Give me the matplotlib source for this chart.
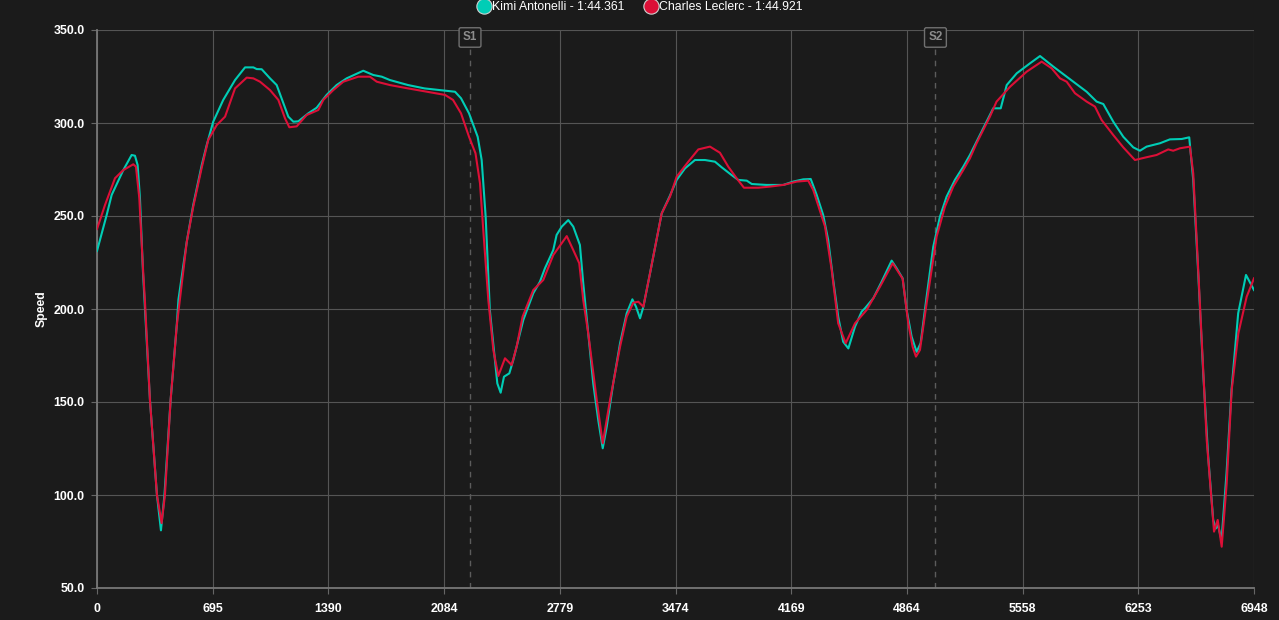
import matplotlib
matplotlib.use("Agg")
import matplotlib.pyplot as plt
from matplotlib.lines import Line2D
import matplotlib.transforms as mtransforms

# ---------------- data ----------------
kimi_label = "Kimi Antonelli - 1:44.361"
leclerc_label = "Charles Leclerc - 1:44.921"

kimi_dist = [0, 58, 88, 158, 208, 228, 244, 258, 276, 288, 318, 360, 384, 405, 442, 479, 489, 539, 578, 629,
             659, 698, 758, 829, 889, 939, 959, 989, 1039, 1079, 1119, 1149, 1179, 1209, 1269, 1319, 1379, 1439,
             1499, 1599, 1659, 1710, 1759, 1868, 1967, 2090, 2150, 2186, 2234, 2286, 2310, 2334, 2359, 2404, 2424,
             2444, 2476, 2500, 2530, 2560, 2620, 2660, 2690, 2740, 2760, 2791, 2830, 2860, 2900, 2920, 2950, 2980,
             3010, 3037, 3061, 3100, 3141, 3181, 3215, 3237, 3261, 3281, 3321, 3391, 3441, 3481, 3531, 3591, 3651,
             3711, 3751, 3811, 3851, 3902, 3932, 4021, 4121, 4181, 4241, 4286, 4322, 4361, 4391, 4421, 4451, 4481,
             4512, 4552, 4592, 4612, 4662, 4712, 4772, 4802, 4838, 4862, 4892, 4922, 4946, 4982, 5022, 5062, 5102,
             5152, 5202, 5242, 5272, 5362, 5382, 5427, 5463, 5523, 5603, 5663, 5743, 5823, 5943, 6003, 6043, 6103,
             6163, 6223, 6263, 6303, 6383, 6443, 6514, 6559, 6583, 6613, 6643, 6673, 6703, 6719, 6731, 6753, 6783,
             6813, 6853, 6900, 6948]
kimi_speed = [231.2, 250.5, 261.3, 274.7, 282.8, 282.4, 277.4, 259.5, 220, 200, 151, 100, 81, 100, 151, 191.4, 205,
              236.2, 256, 277.4, 288.2, 300.7, 312.4, 323.1, 329.9, 329.9, 329.0, 328.9, 324, 320.4, 310.6, 303.4,
              300.7, 300.9, 305.2, 308.2, 315.1, 320.4, 324, 328.1, 325.8, 324.9, 323.1, 320.4, 318.6, 317.4, 316.8,
              313.3, 305.2, 292.6, 280.1, 249.6, 199.5, 160, 155, 163.6, 165.4, 172.6, 183.3, 194.1, 208.5, 214.7,
              221.9, 231.7, 239.8, 244.3, 247.8, 244.3, 234.4, 213.8, 186.9, 160, 140.3, 125.1, 136.7, 160, 181.6,
              197.7, 205.2, 201.2, 195, 201.2, 219.2, 251.4, 261, 269.4, 275.6, 280.1, 280.1, 279.2, 276.2, 272,
              269.4, 269, 267.2, 266.7, 266.7, 268.5, 269.7, 269.9, 261.3, 250.5, 237.1, 215.6, 195.9, 182.4, 178.8,
              190.5, 198.6, 200.4, 205.8, 214.7, 226, 221.9, 216.5, 199.5, 185.1, 177, 181.6, 206.6, 233.5, 249.6,
              260.4, 269.4, 276.5, 282.8, 288.2, 304.3, 307.9, 307.9, 320.4, 326.7, 332.1, 336, 330.3, 324.9, 316.8,
              311.5, 310.2, 300.7, 292.6, 286.9, 285.1, 287.3, 289.1, 291.2, 291.4, 292.3, 269.4, 219.2, 165.4,
              120.6, 86.6, 82, 84, 75.8, 111.7, 156.5, 197.7, 218.3, 210.2]

leclerc_dist = [0, 48, 108, 158, 218, 234, 254, 276, 288, 318, 360, 388, 408, 442, 479, 539, 578, 629, 668, 719,
                769, 829, 899, 939, 979, 1039, 1089, 1129, 1155, 1199, 1259, 1329, 1359, 1419, 1479, 1569, 1639, 1680,
                1759, 1868, 2090, 2138, 2186, 2234, 2273, 2300, 2321, 2350, 2380, 2410, 2450, 2490, 2520, 2556, 2620,
                2680, 2740, 2821, 2860, 2896, 2920, 2950, 3001, 3037, 3081, 3141, 3181, 3221, 3251, 3281, 3321, 3391,
                3441, 3481, 3551, 3611, 3681, 3741, 3791, 3841, 3885, 3971, 4041, 4121, 4202, 4271, 4301, 4372, 4412,
                4451, 4496, 4552, 4622, 4702, 4778, 4838, 4872, 4898, 4918, 4942, 4982, 5042, 5092, 5142, 5202, 5242,
                5282, 5362, 5402, 5483, 5583, 5673, 5733, 5783, 5823, 5873, 5943, 5993, 6033, 6103, 6163, 6233, 6303,
                6363, 6433, 6463, 6503, 6563, 6583, 6604, 6634, 6664, 6708, 6730, 6754, 6784, 6814, 6854, 6904, 6948]
leclerc_speed = [243, 255.9, 270.3, 274.7, 277.8, 276.5, 259.7, 222, 204, 151, 100, 84.9, 100, 151, 191, 236, 255,
                 276, 290.9, 298.9, 303.4, 318.6, 324.4, 324, 322.2, 317.7, 312.4, 302.5, 297.7, 298.2, 304.3, 307,
                 312.4, 317.7, 322.2, 324.9, 324.9, 322.2, 320.4, 318.6, 315.1, 312.4, 305.2, 292.6, 283.7, 267.6,
                 240.7, 204.8, 178, 164, 173.5, 169.9, 179.7, 195.9, 210.2, 215.6, 229, 239.2, 231.7, 224.6, 204.8,
                 186.9, 151.1, 127.8, 151.1, 179.7, 195.9, 203.4, 203.9, 201.2, 219.2, 251.4, 260.4, 271.1, 279.2,
                 285.8, 287.3, 284, 276.5, 270.3, 265.2, 265.2, 265.8, 266.7, 268.5, 269, 264, 244.3, 221, 192.3,
                 181.6, 192.3, 199.5, 212, 224.6, 216.3, 192.3, 179.7, 174.4, 178, 203.1, 238.9, 255, 265.8, 274.7,
                 281, 289.1, 303.4, 311.5, 319.5, 327.6, 333, 329.4, 324, 322.2, 316, 311.5, 308.8, 301.6, 293.5,
                 286.9, 280.1, 281.6, 282.8, 285.8, 285.1, 286.4, 287.3, 273, 237.1, 183.3, 129.6, 80.3, 86.6, 72.2,
                 106.3, 156.5, 186.9, 206.6, 216.5]

sector_dist = [2240, 5035]
sector_labels = ["S1", "S2"]

x_ticks = [0, 695, 1390, 2084, 2779, 3474, 4169, 4864, 5558, 6253, 6948]
y_ticks = [50, 100, 150, 200, 250, 300, 350]

# ---------------- style ----------------
BG = "#1b1b1b"
GRID = "#555555"
TEAL = "#00cdb6"
RED = "#dc0f37"
FONT = ["Liberation Sans", "DejaVu Sans"]

plt.rcParams["font.family"] = FONT

fig = plt.figure(figsize=(12.79, 6.20), dpi=100, facecolor=BG)
ax = fig.add_axes([97 / 1279, 32 / 620, 1157 / 1279, 558 / 620], facecolor=BG)

ax.plot(kimi_dist, kimi_speed, color=TEAL, lw=1.5, solid_joinstyle="round", zorder=3)
ax.plot(leclerc_dist, leclerc_speed, color=RED, lw=1.5, solid_joinstyle="round", zorder=4)

ax.set_xlim(0, 6948)
ax.set_ylim(50, 350)
ax.set_xticks(x_ticks)
ax.set_xticklabels([str(t) for t in x_ticks])
ax.set_yticks(y_ticks)
ax.set_yticklabels([f"{t:.1f}" for t in y_ticks])

ax.grid(True, color=GRID, lw=0.8, zorder=0)
for s in ["top", "right"]:
    ax.spines[s].set_visible(False)
for s in ["left", "bottom"]:
    ax.spines[s].set_color("#777777")
    ax.spines[s].set_linewidth(1.3)

ax.tick_params(axis="both", colors="#666666", length=4, width=0.8, labelsize=8.9,
               labelcolor="#ffffff", pad=5)
ax.tick_params(axis="x", pad=6.5)
for lab in ax.get_xticklabels() + ax.get_yticklabels():
    lab.set_fontweight("bold")

ax.set_ylabel("Speed", color="#ffffff", fontsize=8.8, fontweight="bold")
ax.yaxis.set_label_coords(-0.0475, 0.5)
ax.yaxis.label.set_va("center")

# sector markers
trans = mtransforms.blended_transform_factory(ax.transData, ax.transAxes)
for d, lab in zip(sector_dist, sector_labels):
    ax.plot([d, d], [0, 0.969], transform=trans, color="#5c5c5c", lw=1.0,
            linestyle=(0, (4, 4)), zorder=2)
    ax.text(d, 0.9866, lab, transform=trans, ha="center", va="center", color="#8c8c8c",
            fontsize=8.4, fontweight="bold", zorder=5,
            bbox=dict(boxstyle="round,pad=0.32,rounding_size=0.15", fc=BG, ec="#707070", lw=1.0))

# legend
handles = [
    Line2D([], [], marker="o", linestyle="none", markersize=11, markerfacecolor=TEAL,
           markeredgecolor="#d0d0d0", markeredgewidth=0.8),
    Line2D([], [], marker="o", linestyle="none", markersize=11, markerfacecolor=RED,
           markeredgecolor="#d0d0d0", markeredgewidth=0.8),
]
leg = fig.legend(handles, [kimi_label, leclerc_label], loc="center", bbox_to_anchor=(0.5, 1 - 7 / 620),
                 ncol=2, frameon=False, fontsize=8.8, handletextpad=0.05, columnspacing=1.6,
                 handlelength=1.2, borderpad=0)
for t in leg.get_texts():
    t.set_color("#ffffff")

fig.savefig("out.png", dpi=100, facecolor=BG)
